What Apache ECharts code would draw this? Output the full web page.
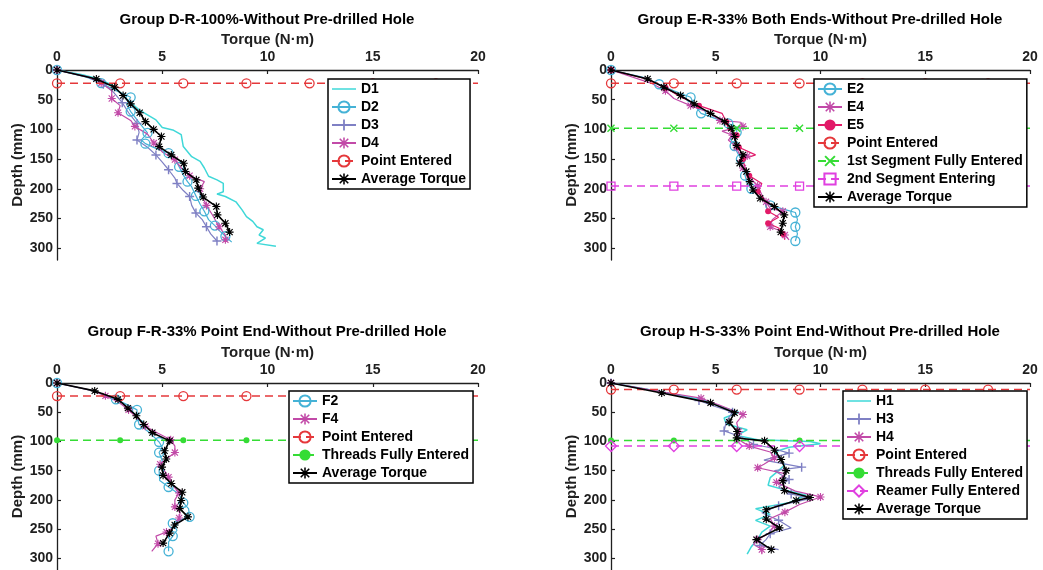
<!DOCTYPE html>
<html>
<head>
<meta charset="utf-8">
<script src="https://cdn.jsdelivr.net/npm/echarts@6.0.0/dist/echarts.min.js"></script>
<style>
  html, body { margin: 0; padding: 0; background: #fff; }
  #main { width: 1043px; height: 570px; }
</style>
</head>
<body>
<div id="main"></div>
<script>
// ---------------------------------------------------------------
// Data: [torque (N·m), depth (mm)]
var D1 = [[0,0],[1.2,8],[2.0,15],[2.6,25],[3.0,38],[3.4,52],[3.9,67],[4.7,84],[5.0,97],[5.5,101],[5.9,109],[6.0,129],[6.4,146],[6.8,154],[7.0,165],[7.2,179],[7.6,185],[7.9,191],[7.9,205],[7.6,209],[8.0,213],[8.5,222],[8.8,236],[9.0,247],[9.3,255],[9.5,264],[9.8,269],[9.6,278],[9.9,283],[9.5,292],[10.4,297]];
var D2 = [[0,0],[1.4,12],[2.1,22],[2.7,33],[3.5,46],[3.3,58],[3.5,70],[4.0,93],[4.3,106],[4.0,118],[4.2,124],[4.7,132],[5.3,140],[5.6,150],[5.8,163],[6.0,177],[6.2,188],[6.4,197],[6.6,212],[6.8,226],[7.0,238],[7.2,252],[7.5,262],[7.7,270],[8.0,280],[8.3,290]];
var D3 = [[0,0],[1.5,12],[2.2,24],[2.7,38],[3.1,55],[3.4,72],[3.8,90],[3.9,105],[3.8,118],[4.3,130],[4.7,143],[5.0,155],[5.3,168],[5.6,182],[5.7,191],[6.0,203],[6.3,213],[6.4,228],[6.6,241],[6.9,252],[7.1,264],[7.3,276],[7.6,288]];
var D4 = [[0,0],[1.5,12],[2.1,22],[2.6,34],[2.6,48],[3.0,60],[2.9,72],[3.5,85],[3.7,95],[4.3,108],[4.6,123],[5.0,138],[5.6,151],[5.9,165],[6.3,178],[7.0,188],[6.8,200],[6.9,213],[7.1,228],[7.4,245],[7.7,264],[8.0,278],[8.0,286]];
var D_avg = [[0,0],[1.87,15],[2.74,29],[3.14,43],[3.5,57],[3.93,72],[4.2,87],[4.59,100],[4.96,112],[4.85,129],[5.43,143],[6.02,157],[6.1,171],[6.62,185],[6.71,199],[6.94,214],[7.57,230],[7.62,244],[8.0,258],[8.2,273]];

var E2 = [[0,0],[1.5,12],[2.3,24],[3.0,35],[3.8,46],[4.0,60],[4.3,73],[5.0,82],[5.6,90],[6.0,96],[6.0,105],[5.7,116],[5.9,128],[6.0,137],[6.2,150],[6.3,165],[6.4,178],[6.5,191],[6.7,200],[7.1,215],[7.6,228],[8.4,236],[8.8,240],[8.9,252],[8.8,264],[8.9,276],[8.8,288]];
var E4 = [[0,0],[1.9,22],[2.6,35],[3.0,48],[3.8,60],[4.7,72],[5.2,85],[6.2,88],[6.3,95],[5.3,103],[5.8,110],[5.6,118],[6.0,130],[6.1,140],[6.5,145],[6.1,152],[6.3,165],[6.6,180],[7.0,195],[7.2,210],[7.4,222],[7.6,233],[8.2,238],[7.7,252],[7.6,264],[8.0,270],[8.3,278],[8.5,286]];
var E5 = [[0,0],[1.7,15],[2.6,30],[3.3,45],[4.2,60],[5.3,73],[5.5,87],[5.6,100],[6.0,110],[5.9,120],[6.1,130],[6.9,143],[6.3,150],[6.4,165],[6.6,178],[7.2,191],[7.0,205],[7.3,218],[7.5,238],[8.0,248],[7.5,258],[8.0,266],[8.2,276],[8.3,286]];
var E_avg = [[0,0],[1.75,15],[2.53,29],[3.32,43],[3.97,57],[4.75,73],[5.43,87],[5.74,98],[5.9,112],[6.0,127],[6.3,143],[6.14,157],[6.46,171],[6.62,188],[6.78,202],[7.12,216],[7.8,230],[8.27,244],[8.2,258],[8.1,273]];

var F2 = [[0,0],[1.8,14],[2.8,28],[3.5,40],[3.8,46],[3.8,58],[3.9,71],[4.4,85],[4.85,101],[5.0,110],[4.85,119],[5.0,133],[4.85,150],[4.88,167],[5.3,178],[5.8,190],[6.0,205],[6.25,215],[6.3,229],[5.8,235],[5.5,240],[5.7,252],[5.5,262],[5.3,272],[5.3,288]];
var F4 = [[0,0],[1.7,13],[2.3,22],[2.9,32],[3.4,46],[3.8,60],[4.2,74],[4.8,86],[5.4,97],[5.6,108],[5.6,119],[5.2,130],[4.9,139],[5.1,150],[5.3,161],[5.5,175],[5.8,188],[5.6,200],[5.6,212],[5.85,222],[5.8,231],[5.6,245],[5.2,255],[4.7,262],[4.8,275],[4.5,288]];
var F_avg = [[0,0],[1.79,13.5],[2.9,28],[3.37,43],[3.77,56],[4.12,71],[4.53,85],[5.35,99],[5.11,116],[5.19,130],[4.99,144],[5.04,158],[5.43,172],[5.95,187],[5.9,201],[5.83,215],[6.22,229],[5.59,243],[5.35,257],[5.04,274]];

var H1 = [[0,0],[2.4,15],[4.5,30],[5.2,40],[6.1,50],[5.4,60],[5.5,70],[6.5,80],[6.0,90],[7.0,97],[9.5,100],[10.0,104],[8.5,110],[7.8,118],[8.0,128],[8.3,140],[8.0,150],[7.6,162],[7.5,175],[8.2,182],[9.3,192],[8.5,205],[6.9,215],[7.6,225],[6.9,235],[7.6,245],[7.2,255],[7.0,268],[6.7,280],[6.5,293]];
var H3 = [[0,0],[2.4,15],[4.2,30],[4.8,38],[5.8,50],[5.5,66],[5.4,82],[6.2,92],[6.8,105],[7.5,110],[8.5,120],[7.3,132],[9.1,144],[7.8,150],[8.5,165],[8.0,178],[8.6,190],[9.5,198],[8.0,210],[7.2,222],[8.0,235],[8.6,248],[7.6,258],[7.4,268],[7.1,278],[8.0,285]];
var H4 = [[0,0],[2.4,15],[4.3,26],[5.2,38],[6.3,54],[6.0,68],[6.1,83],[6.0,95],[6.6,108],[7.6,118],[7.8,128],[7.3,139],[7.0,145],[8.3,155],[7.9,170],[8.8,185],[10.0,195],[9.0,208],[8.3,221],[7.6,232],[7.8,245],[7.5,258],[7.0,268],[6.8,276],[7.2,285],[7.2,293]];
var H_avg = [[0,0],[2.42,17],[4.75,34],[5.9,51],[5.64,67],[6.02,83],[6.0,94],[7.33,99],[7.81,115],[8.12,131],[8.36,150],[8.2,167],[8.28,184],[9.5,196],[8.84,201],[7.41,217],[7.41,233],[8.04,248],[6.94,268],[7.65,285]];

// reference (event) lines: marker torque positions and depth of each line
var refMarks = [0, 3, 6, 9, 12, 15, 18];
var refEnd = 20;
var depthPointD = 22.5, depthPointE = 22.4, depthSeg1E = 98, depthSeg2E = 195.5;
var depthPointF = 22.4, depthThreadsF = 97.8;
var depthPointH = 11.2, depthThreadsH = 98.3, depthReamerH = 107.9;

var titles = [
    'Group D-R-100%-Without Pre-drilled Hole',
    'Group E-R-33% Both Ends-Without Pre-drilled Hole',
    'Group F-R-33% Point End-Without Pre-drilled Hole',
    'Group H-S-33% Point End-Without Pre-drilled Hole'
];
var xTicks = [0, 5, 10, 15, 20];
var yTicks = [0, 50, 100, 150, 200, 250, 300];

// ---------------------------------------------------------------
var FONT = '"Liberation Sans", Arial, sans-serif';
var INK = '#1f1f1f';

var cCyan = '#3fd8d8', cBlue = '#45b2d6', cSlate = '#7f80c4', cMag = '#c24aa8',
    cRed = '#e5383b', cCrim = '#e21a68', cGreen = '#35dc35', cPink = '#e040e0';

var PLUS = 'path://M4.2,0H5.8V4.2H10V5.8H5.8V10H4.2V5.8H0V4.2H4.2Z';
var CROSS = 'path://M0.6,1.7L1.7,0.6L9.4,8.3L8.3,9.4Z M8.3,0.6L9.4,1.7L1.7,9.4L0.6,8.3Z';
var STAR = 'path://M4.3,0H5.7V4.3H10V5.7H5.7V10H4.3V5.7H0V4.3H4.3Z M0.7,1.7L1.7,0.7L9.3,8.3L8.3,9.3Z M8.3,0.7L9.3,1.7L1.7,9.3L0.7,8.3Z';
var LINE_ICON = 'path://M0,0H24V1.5H0Z';   // legend icon for marker-less lines

var grids = [
    { left: 57, top: 70, width: 421, height: 190 },
    { left: 611, top: 70, width: 419, height: 190 },
    { left: 57, top: 383, width: 421, height: 190 },
    { left: 611, top: 383, width: 419, height: 190 }
];
var titlePos = [[267, 20], [820, 20], [267, 332], [820, 332]];

function xAxisFor(i) {
    return {
        gridIndex: i, type: 'value', position: 'top', min: 0, max: 20, interval: 5,
        name: 'Torque (N·m)', nameLocation: 'middle', nameGap: 23,
        nameTextStyle: { fontFamily: FONT, fontWeight: 'bold', fontSize: 15, color: INK },
        axisLine: { onZero: false, lineStyle: { color: INK, width: 1.3 } },
        axisTick: { inside: true, length: 4, customValues: xTicks, lineStyle: { color: INK, width: 1.2 } },
        axisLabel: { margin: 6, customValues: xTicks, fontFamily: FONT, fontWeight: 'bold', fontSize: 14, color: INK },
        splitLine: { show: false }
    };
}

function yAxisFor(i) {
    return {
        gridIndex: i, type: 'value', inverse: true, min: 0, max: 320, interval: 50,
        name: 'Depth (mm)', nameLocation: 'middle', nameGap: 32,
        nameTextStyle: { fontFamily: FONT, fontWeight: 'bold', fontSize: 15, color: INK },
        axisLine: { onZero: false, lineStyle: { color: INK, width: 1.3 } },
        axisTick: { inside: true, length: 4, customValues: yTicks, lineStyle: { color: INK, width: 1.2 } },
        axisLabel: { margin: 4, customValues: yTicks, fontFamily: FONT, fontWeight: 'bold', fontSize: 14, color: INK },
        splitLine: { show: false }
    };
}

// every-th point carries a marker, like the sparse markers of the source plot
function thinMarks(arr, every) {
    return arr.map(function (p, i) {
        return (i % every === 0) ? p : { value: p, symbol: 'none' };
    });
}

function curve(name, g, data, color, symbol, size, hollow, every, width) {
    return {
        name: name, type: 'line', xAxisIndex: g, yAxisIndex: g,
        data: every ? thinMarks(data, every) : data,
        symbol: symbol || 'none', symbolSize: size || 7,
        lineStyle: { color: color, width: width || 1.2 },
        itemStyle: hollow ? { color: 'rgba(0,0,0,0)', borderColor: color, borderWidth: 1.3 } : { color: color, borderWidth: 0 },
        emphasis: { disabled: true },
        z: 2
    };
}

function refLine(name, g, depth, color, symbol, size, hollow) {
    var data = refMarks.map(function (x) { return [x, depth]; });
    data.push({ value: [refEnd, depth], symbol: 'none' });
    var s = curve(name, g, data, color, symbol, size, hollow, 0, 1.5);
    s.lineStyle.type = [8, 5];
    s.z = 3;
    return s;
}

function avgLine(g, data) {
    var s = curve('Average Torque', g, data, '#000', STAR, 8, false, 1, 1.6);
    s.z = 4;
    return s;
}

var series = [
    curve('D1', 0, D1, cCyan, 'none', 0, false, 0, 1.5),
    curve('D2', 0, D2, cBlue, 'circle', 9, true, 2),
    curve('D3', 0, D3, cSlate, PLUS, 9, false, 2),
    curve('D4', 0, D4, cMag, STAR, 8, false, 2),
    refLine('Point Entered', 0, depthPointD, cRed, 'circle', 9, true),
    avgLine(0, D_avg),

    curve('E2', 1, E2, cBlue, 'circle', 9, true, 2),
    curve('E4', 1, E4, cMag, STAR, 8, false, 2),
    curve('E5', 1, E5, cCrim, 'circle', 6, false, 2),
    refLine('Point Entered', 1, depthPointE, cRed, 'circle', 9, true),
    refLine('1st Segment Fully Entered', 1, depthSeg1E, cGreen, CROSS, 8, false),
    refLine('2nd Segment Entering', 1, depthSeg2E, cPink, 'rect', 8, true),
    avgLine(1, E_avg),

    curve('F2', 2, F2, cBlue, 'circle', 9, true, 2),
    curve('F4', 2, F4, cMag, STAR, 8, false, 2),
    refLine('Point Entered', 2, depthPointF, cRed, 'circle', 9, true),
    refLine('Threads Fully Entered', 2, depthThreadsF, cGreen, 'circle', 6, false),
    avgLine(2, F_avg),

    curve('H1', 3, H1, cCyan, 'none', 0, false, 0, 1.5),
    curve('H3', 3, H3, cSlate, PLUS, 9, false, 2),
    curve('H4', 3, H4, cMag, STAR, 8, false, 2),
    refLine('Point Entered', 3, depthPointH, cRed, 'circle', 9, true),
    refLine('Threads Fully Entered', 3, depthThreadsH, cGreen, 'circle', 6, false),
    refLine('Reamer Fully Entered', 3, depthReamerH, cPink, 'diamond', 11, true),
    avgLine(3, H_avg)
];

function legendAt(left, top, names) {
    return {
        left: left, top: top, orient: 'vertical', align: 'left',
        data: names.map(function (n) {
            return (n === 'D1' || n === 'H1') ? { name: n, icon: LINE_ICON } : n;
        }),
        selectedMode: false,
        backgroundColor: '#fff', borderColor: '#000', borderWidth: 1.5,
        padding: [3, 4, 3, 3], itemWidth: 24, itemHeight: 14, itemGap: 4,
        textStyle: { fontFamily: FONT, fontWeight: 'bold', fontSize: 14, color: '#000' },
        z: 10
    };
}

var option = {
    animation: false,
    backgroundColor: '#fff',
    grid: grids,
    xAxis: [xAxisFor(0), xAxisFor(1), xAxisFor(2), xAxisFor(3)],
    yAxis: [yAxisFor(0), yAxisFor(1), yAxisFor(2), yAxisFor(3)],
    legend: [
        legendAt(328, 79, ['D1', 'D2', 'D3', 'D4', 'Point Entered', 'Average Torque']),
        legendAt(814, 79, ['E2', 'E4', 'E5', 'Point Entered', '1st Segment Fully Entered', '2nd Segment Entering', 'Average Torque']),
        legendAt(289, 391, ['F2', 'F4', 'Point Entered', 'Threads Fully Entered', 'Average Torque']),
        legendAt(843, 391, ['H1', 'H3', 'H4', 'Point Entered', 'Threads Fully Entered', 'Reamer Fully Entered', 'Average Torque'])
    ],
    graphic: titles.map(function (t, i) {
        return {
            type: 'text', x: titlePos[i][0], y: titlePos[i][1], z: 20,
            style: {
                text: t, fill: '#000', font: 'bold 15px ' + FONT,
                align: 'center', verticalAlign: 'middle',
                textAlign: 'center', textVerticalAlign: 'middle'
            }
        };
    }),
    series: series
};

var chart = echarts.init(document.getElementById('main'));
chart.setOption(option);
</script>
</body>
</html>
